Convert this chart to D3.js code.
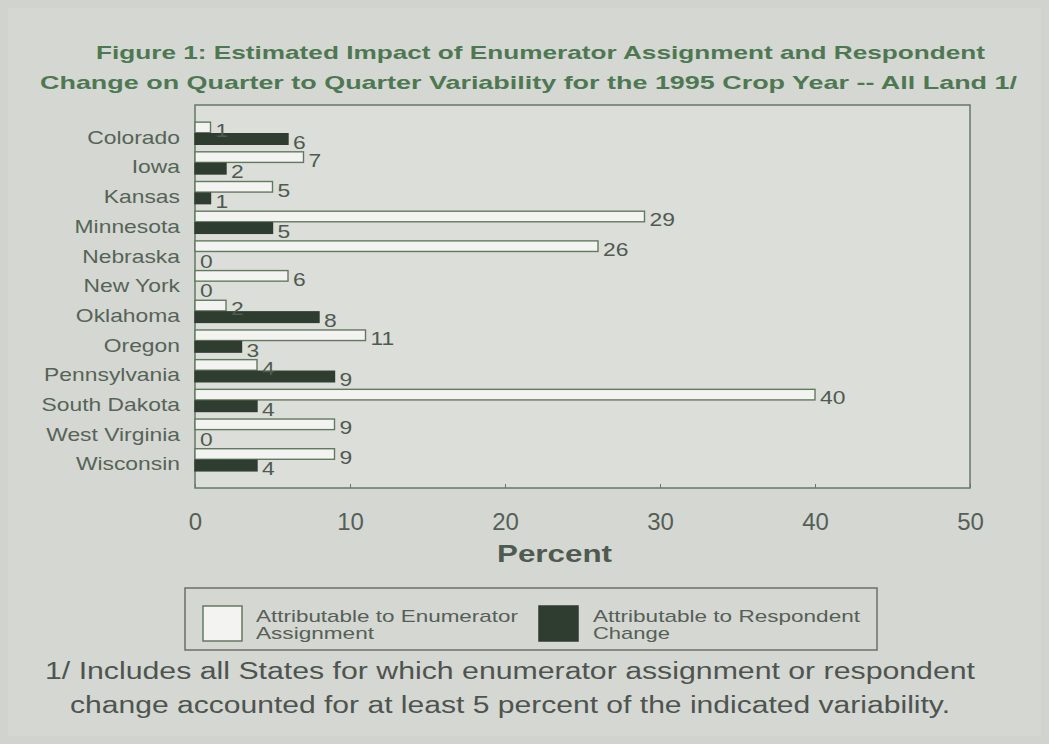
<!DOCTYPE html>
<html>
<head>
<meta charset="utf-8">
<script src="https://cdn.jsdelivr.net/npm/d3@7"></script>
<style>
  html, body { margin: 0; padding: 0; background: #d1d3cf; }
  svg { display: block; }
</style>
</head>
<body>
<svg id="chart" width="1049" height="744"></svg>
<script>
// States shown, top to bottom
const states = ["Colorado", "Iowa", "Kansas", "Minnesota", "Nebraska", "New York",
  "Oklahoma", "Oregon", "Pennsylvania", "South Dakota", "West Virginia", "Wisconsin"];
// Percent of quarter-to-quarter variability
const enumeratorValues = [1, 7, 5, 29, 26, 6, 2, 11, 4, 40, 9, 9];
const respondentValues = [6, 2, 1, 5, 0, 0, 8, 3, 9, 4, 0, 4];
const seriesNames = ["Attributable to Enumerator|Assignment", "Attributable to Respondent|Change"];
const xTicks = [0, 10, 20, 30, 40, 50];
const titleLines = [
  "Figure 1: Estimated Impact of Enumerator Assignment and Respondent",
  "Change on Quarter to Quarter Variability for the 1995 Crop Year -- All Land 1/"
];
const footnoteLines = [
  "1/ Includes all States for which enumerator assignment or respondent",
  "change accounted for at least 5 percent of the indicated variability."
];

const W = 1049, H = 744;
const svg = d3.select("#chart");
const font = "'Liberation Sans', Arial, sans-serif";
const textCol = "#566457";
const titleCol = "#4d7852";
const lineCol = "#66786a";

svg.append("rect").attr("width", W).attr("height", H).attr("fill", "#d1d3cf");
svg.append("rect").attr("x", 8).attr("y", 8).attr("width", W - 16).attr("height", H - 16)
  .attr("fill", "#d5d7d3");

// Title
titleLines.forEach((t, i) => {
  const x0 = i === 0 ? 96 : 40, x1 = i === 0 ? 985 : 1017;
  svg.append("text")
    .attr("x", x0).attr("y", 59 + i * 30)
    .attr("textLength", x1 - x0).attr("lengthAdjust", "spacingAndGlyphs")
    .attr("font-family", font).attr("font-weight", "bold").attr("font-size", 19)
    .attr("fill", titleCol).text(t);
});

// Plot area
const plot = { left: 195, top: 105, right: 970, bottom: 488 };
const x = d3.scaleLinear().domain([0, 50]).range([plot.left, plot.right]);
const y = d3.scaleBand().domain(states).range([plot.top, plot.bottom])
  .paddingInner(0.22).paddingOuter(0.56);
const sub = d3.scaleBand().domain([0, 1]).range([0, y.bandwidth()]);

svg.append("rect")
  .attr("x", plot.left).attr("y", plot.top)
  .attr("width", plot.right - plot.left).attr("height", plot.bottom - plot.top)
  .attr("fill", "#dcdeda").attr("stroke", lineCol).attr("stroke-width", 1.5);

// Small ticks along the bottom edge
svg.append("g")
  .attr("transform", `translate(0,${plot.bottom})`)
  .call(d3.axisTop(x).tickValues(xTicks).tickSize(4).tickFormat(""))
  .call(g => g.select(".domain").remove())
  .call(g => g.selectAll("line").attr("stroke", lineCol));

// Tick labels
svg.append("g")
  .attr("transform", `translate(0,${plot.bottom})`)
  .call(d3.axisBottom(x).tickValues(xTicks).tickSize(0).tickPadding(0))
  .call(g => g.select(".domain").remove())
  .call(g => g.selectAll("text")
    .attr("y", 42).attr("dy", null)
    .attr("font-family", font).attr("font-size", 24).attr("fill", "#555f56"));

svg.append("text")
  .attr("x", 497).attr("y", 562)
  .attr("textLength", 115).attr("lengthAdjust", "spacingAndGlyphs")
  .attr("font-family", font).attr("font-weight", "bold").attr("font-size", 24)
  .attr("fill", "#4f5a50").text("Percent");

// Category labels (slightly widened type)
const sx = 1.27;
svg.append("g").selectAll("text").data(states).join("text")
  .attr("transform", d => `translate(180,${y(d) + sub(1) + sub.bandwidth() / 2}) scale(${sx},1)`)
  .attr("text-anchor", "end").attr("dominant-baseline", "middle")
  .attr("font-family", font).attr("font-size", 18).attr("fill", textCol)
  .text(d => d);

// Bars
const rows = states.map((s, i) => ({ state: s, vals: [enumeratorValues[i], respondentValues[i]] }));
const fills = ["#f3f4f1", "#2f3d31"];
const strokes = ["#63795f", "#2f3d31"];

const groups = svg.append("g").selectAll("g").data(rows).join("g")
  .attr("transform", d => `translate(0,${y(d.state)})`);

groups.selectAll("rect").data(d => d.vals.map((v, k) => ({ v, k }))).join("rect")
  .attr("x", x(0)).attr("y", d => sub(d.k) + 0.5)
  .attr("width", d => x(d.v) - x(0)).attr("height", sub.bandwidth() - 1)
  .attr("fill", d => fills[d.k]).attr("stroke", d => d.v > 0 ? strokes[d.k] : "none")
  .attr("stroke-width", 1.4);

groups.selectAll("text").data(d => d.vals.map((v, k) => ({ v, k }))).join("text")
  .attr("transform", d => `translate(${x(d.v) + 5},${sub(d.k) + sub.bandwidth() / 2 + 5}) scale(${sx},1)`)
  .attr("dominant-baseline", "middle")
  .attr("font-family", font).attr("font-size", 18).attr("fill", "#4f5a50")
  .text(d => d.v);

// Legend
const lg = svg.append("g");
lg.append("rect").attr("x", 185).attr("y", 588).attr("width", 692).attr("height", 62)
  .attr("fill", "none").attr("stroke", "#6a706a").attr("stroke-width", 1.5);
const legendItems = [
  { swX: 203, txtX: 256, widths: [262, 118] },
  { swX: 539, txtX: 593, widths: [267, 77] }
];
legendItems.forEach((it, k) => {
  lg.append("rect").attr("x", it.swX).attr("y", 606).attr("width", 39).attr("height", 35)
    .attr("fill", fills[k]).attr("stroke", strokes[k]).attr("stroke-width", 1.5);
  seriesNames[k].split("|").forEach((t, j) => {
    lg.append("text").attr("x", it.txtX).attr("y", 622 + j * 17)
      .attr("textLength", it.widths[j]).attr("lengthAdjust", "spacingAndGlyphs")
      .attr("font-family", font).attr("font-size", 17).attr("fill", "#556056").text(t);
  });
});

// Footnote
footnoteLines.forEach((t, i) => {
  const x0 = i === 0 ? 45 : 70, x1 = i === 0 ? 975 : 950;
  svg.append("text")
    .attr("x", x0).attr("y", 679 + i * 34)
    .attr("textLength", x1 - x0).attr("lengthAdjust", "spacingAndGlyphs")
    .attr("font-family", font).attr("font-size", 23).attr("fill", "#4e544f").text(t);
});
</script>
</body>
</html>
